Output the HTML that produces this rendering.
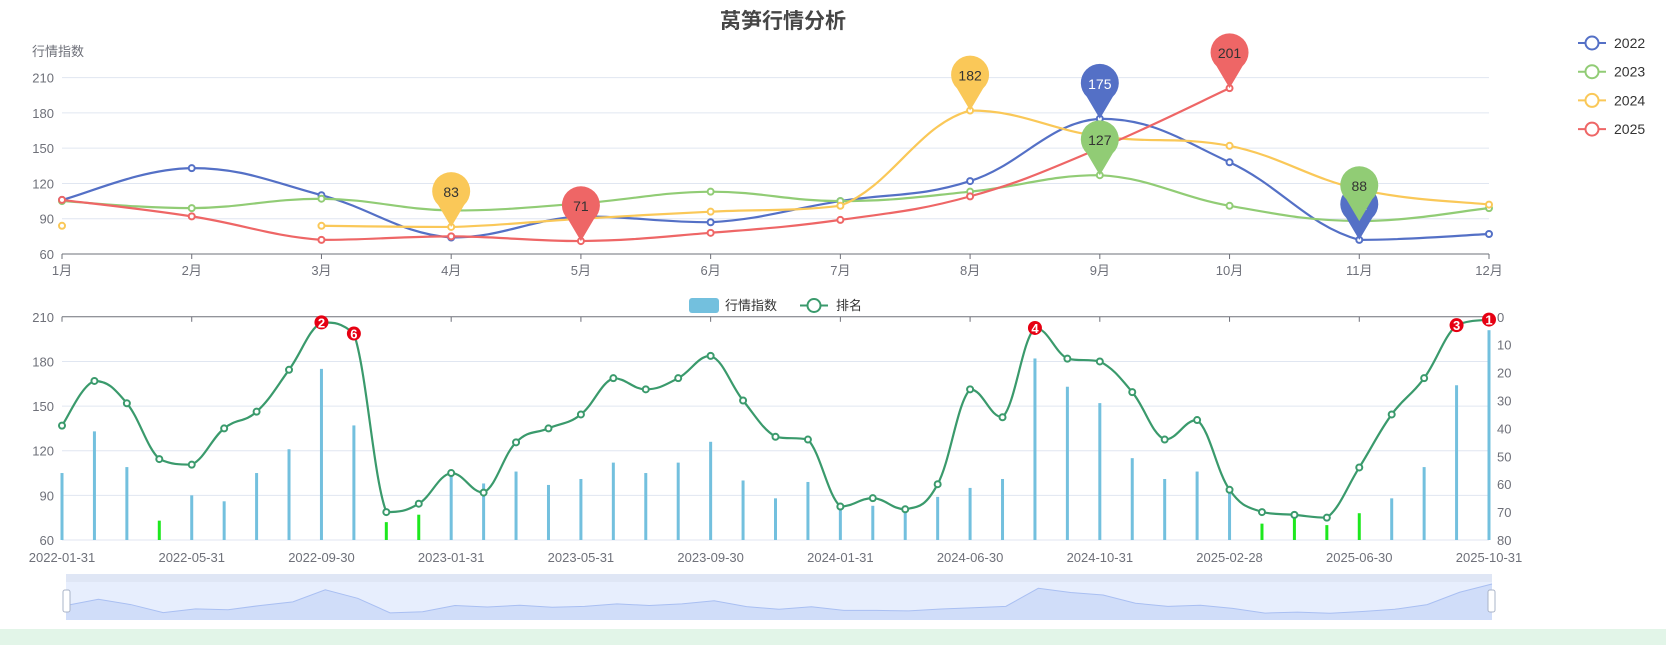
<!DOCTYPE html>
<html><head><meta charset="utf-8">
<style>
html,body{margin:0;padding:0;background:#fff;}
body{width:1666px;height:645px;overflow:hidden;position:relative;font-family:"Liberation Sans","Noto Sans CJK SC",sans-serif;}
svg text{font-family:"Liberation Sans","Noto Sans CJK SC",sans-serif;}
</style></head>
<body>
<svg id="s" width="1666" height="645" xmlns="http://www.w3.org/2000/svg">
<rect x="0" y="629" width="1666" height="16" fill="#e2f5e8"/>
<text x="783" y="28" text-anchor="middle" font-size="21" font-weight="bold" fill="#464646">莴笋行情分析</text>
<text x="32" y="56" font-size="13" fill="#6e7079">行情指数</text>
<text x="725" y="310" font-size="13" fill="#333">行情指数</text>
<text x="836" y="310" font-size="13" fill="#333">排名</text>
</svg>
<script>
const S=document.getElementById('s'),NS='http://www.w3.org/2000/svg';
function el(t,a,txt){const e=document.createElementNS(NS,t);for(const k in a)e.setAttribute(k,a[k]);if(txt!==undefined)e.textContent=txt;S.appendChild(e);return e;}
function cl(v,a,b){const lo=Math.min(a,b),hi=Math.max(a,b);return Math.max(lo,Math.min(hi,v));}
function smooth(p){if(p.length<2)return '';let d='M'+p[0][0]+','+p[0][1];const s=0.2;
for(let i=0;i<p.length-1;i++){const p0=p[i-1]||p[i],p1=p[i],p2=p[i+1],p3=p[i+2]||p2;
const c1=[p1[0]+(p2[0]-p0[0])*s,cl(p1[1]+(p2[1]-p0[1])*s,p1[1],p2[1])],c2=[p2[0]-(p3[0]-p1[0])*s,cl(p2[1]-(p3[1]-p1[1])*s,p1[1],p2[1])];
d+=' C'+c1+' '+c2+' '+p2;}return d;}
// top chart
const TL=62,TR=1489,TB=254,TT=77.6;
const ty=v=>TB-(v-60)/150*(TB-TT), tx=m=>TL+m*(TR-TL)/11;
[90,120,150,180,210].forEach(v=>el('line',{x1:TL,x2:TR,y1:ty(v),y2:ty(v),stroke:'#e0e6f1'}));
[60,90,120,150,180,210].forEach(v=>el('text',{x:TL-8,y:ty(v)+5,'text-anchor':'end','font-size':13,fill:'#6e7079'},v));
el('line',{x1:TL,x2:TR,y1:TB,y2:TB,stroke:'#6e7079'});
for(let m=0;m<12;m++){el('line',{x1:tx(m),x2:tx(m),y1:TB,y2:TB+5,stroke:'#6e7079'});el('text',{x:tx(m),y:TB+21,'text-anchor':'middle','font-size':13,fill:'#6e7079'},(m+1)+'月');}
const series=[
['#5470c6',[106,133,110,74,92,87,105,122,175,138,72,77],[[8,175,'#fff'],[10,72,'#fff']]],
['#91cc75',[105,99,107,97,103,113,105,113,127,101,88,99],[[8,127,'#333'],[10,88,'#333']]],
['#fac858',[84,null,84,83,90,96,101,182,160,152,115,102],[[7,182,'#333'],[3,83,'#333']]],
['#ee6666',[106,92,72,75,71,78,89,109,150,201],[[9,201,'#333'],[4,71,'#333']]]];
function pin(x,y,c,t,tc){const r=19,cy=y-35;el('path',{d:`M${x},${y} L${x-13},${cy+13} A${r},${r} 0 1 1 ${x+13},${cy+13} Z`,fill:c});
el('text',{x:x,y:cy+5,'text-anchor':'middle','font-size':14,fill:tc},t);}
const pins=[];
series.forEach(([c,d,mp])=>{let seg=[],segs=[];d.forEach((v,i)=>{if(v===null){if(seg.length)segs.push(seg);seg=[];}else seg.push([tx(i),ty(v)]);});if(seg.length)segs.push(seg);
segs.forEach(sg=>el('path',{d:smooth(sg),fill:'none',stroke:c,'stroke-width':2.2}));
d.forEach((v,i)=>{if(v!==null)el('circle',{cx:tx(i),cy:ty(v),r:3,fill:'#fff',stroke:c,'stroke-width':2});});
mp.forEach(p=>pins.push([tx(p[0]),ty(p[1]),c,p[1],p[2]]));});
pins.forEach(p=>pin(...p));
// legend
[['2022','#5470c6'],['2023','#91cc75'],['2024','#fac858'],['2025','#ee6666']].forEach(([n,c],i)=>{const y=43+i*28.7;
el('line',{x1:1578,x2:1606,y1:y,y2:y,stroke:c,'stroke-width':2});el('circle',{cx:1592,cy:y,r:6.5,fill:'#fff',stroke:c,'stroke-width':2});
el('text',{x:1614,y:y+5,'font-size':14,fill:'#333'},n);});
// bottom chart
const BL=62,BR=1489,BT=316.8,BB=540;
const by=v=>BB-(v-60)/150*(BB-BT), bx=i=>BL+i*(BR-BL)/44, ry=r=>BT+r/80*(BB-BT);
[90,120,150,180].forEach(v=>el('line',{x1:BL,x2:BR,y1:by(v),y2:by(v),stroke:'#e0e6f1'}));
el('line',{x1:BL,x2:BR,y1:BB,y2:BB,stroke:'#e0e6f1'});
[60,90,120,150,180,210].forEach(v=>el('text',{x:BL-8,y:by(v)+5,'text-anchor':'end','font-size':13,fill:'#6e7079'},v));
[0,10,20,30,40,50,60,70,80].forEach(r=>el('text',{x:BR+8,y:ry(r)+5,'font-size':13,fill:'#6e7079'},r));
el('line',{x1:BL,x2:BR,y1:BT,y2:BT,stroke:'#6e7079'});
const labs=['2022-01-31','2022-05-31','2022-09-30','2023-01-31','2023-05-31','2023-09-30','2024-01-31','2024-06-30','2024-10-31','2025-02-28','2025-06-30','2025-10-31'];
labs.forEach((l,k)=>{const x=bx(k*4);el('line',{x1:x,x2:x,y1:BT,y2:BT+5,stroke:'#6e7079'});el('text',{x:x,y:562,'text-anchor':'middle','font-size':13,fill:'#6e7079'},l);});
const bars=[105,133,109,73,90,86,105,121,175,137,72,77,105,98,106,97,101,112,105,112,126,100,88,99,83,83,81,89,95,101,182,163,152,115,101,106,92,71,75,70,78,88,109,164,201];
const green=[3,10,11,37,38,39,40];
bars.forEach((v,i)=>el('rect',{x:bx(i)-1.5,y:by(v),width:3,height:BB-by(v),fill:green.includes(i)?'#1ee81e':'#73c0de'}));
const rank=[39,23,31,51,53,40,34,19,2,6,70,67,56,63,45,40,35,22,26,22,14,30,43,44,68,65,69,60,26,36,4,15,16,27,44,37,62,70,71,72,54,35,22,3,1];
const rc='#3a9a6c';
el('path',{d:smooth(rank.map((r,i)=>[bx(i),ry(r)])),fill:'none',stroke:rc,'stroke-width':2.2});
const red={8:2,9:6,30:4,43:3,44:1};
rank.forEach((r,i)=>{if(red[i]!==undefined){el('circle',{cx:bx(i),cy:ry(r),r:7,fill:'#e60012'});el('text',{x:bx(i),y:ry(r)+5,'text-anchor':'middle','font-size':13,'font-weight':'bold',fill:'#fff'},red[i]);}
else el('circle',{cx:bx(i),cy:ry(r),r:3,fill:'#fff',stroke:rc,'stroke-width':2});});
// bottom legend
el('rect',{x:689,y:298,width:30,height:15,rx:3,fill:'#73c0de'});
el('line',{x1:800,x2:828,y1:305.5,y2:305.5,stroke:rc,'stroke-width':2});el('circle',{cx:814,cy:305.5,r:6.5,fill:'#fff',stroke:rc,'stroke-width':2});
// slider
const ZL=66,ZR=1492,ZT=574,ZB=620;
el('rect',{x:ZL,y:ZT,width:ZR-ZL,height:8,fill:'#dfe6f5'});
el('rect',{x:ZL,y:ZT+8,width:ZR-ZL,height:ZB-ZT-8,fill:'#e7eefd'});
const zx=i=>ZL+i*(ZR-ZL)/44, zy=v=>ZB-(v-40)/170*(ZB-ZT-8);
let pts=bars.map((v,i)=>[zx(i),zy(v)]);
el('path',{d:'M'+ZL+','+ZB+' L'+pts.map(p=>p.join(',')).join(' L')+' L'+ZR+','+ZB+' Z',fill:'#d0ddf9'});
el('polyline',{points:pts.map(p=>p.join(',')).join(' '),fill:'none',stroke:'#a9bff2','stroke-width':1});
el('rect',{x:ZL-3,y:590,width:7,height:22,rx:2,fill:'#fff',stroke:'#aab4c8'});
el('rect',{x:ZR-4,y:590,width:7,height:22,rx:2,fill:'#fff',stroke:'#aab4c8'});
</script>
</body></html>
